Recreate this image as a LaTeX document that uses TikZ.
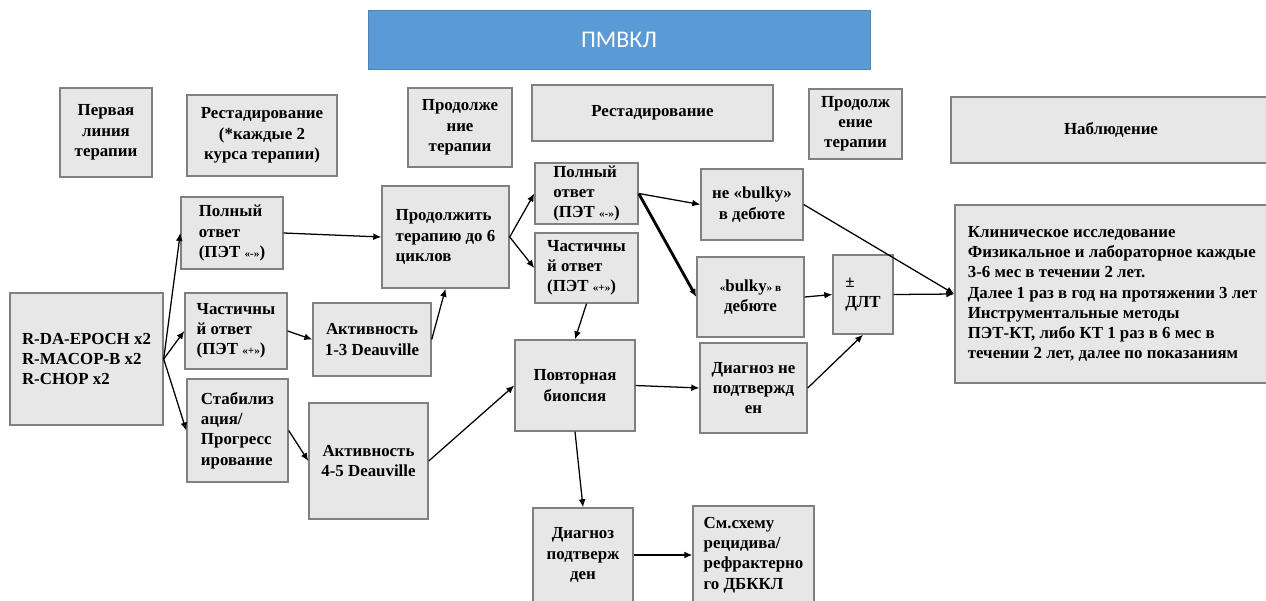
\documentclass[tikz,border=0pt]{standalone}
\usepackage{fontspec}
\setmainfont{Liberation Serif}
\newfontfamily\titlefont{Carlito}
\usetikzlibrary{arrows.meta, positioning}
\definecolor{boxgray}{HTML}{E7E7E7}
\definecolor{edgegray}{HTML}{808080}
\definecolor{titleblue}{HTML}{5B9BD5}
\newcommand{\sm}[1]{{\fontsize{8}{10}\selectfont #1}}

\begin{document}
\begin{tikzpicture}[
  x=0.025cm, y=-0.025cm,
  font=\bfseries\fontsize{12}{14.4}\selectfont,
  sz/.style 2 args={minimum width=#1*0.025cm, minimum height=#2*0.025cm},
  box/.style={draw=edgegray, fill=boxgray, line width=1pt, inner sep=0pt, align=center},
  lbox/.style={box, align=left},
  ttl/.style={draw=titleblue!85!black, fill=titleblue, inner sep=0pt, text=white,
              font=\titlefont\fontsize{17}{20}\selectfont},
  ar/.style={-{Latex[length=2mm, width=1.7mm]}, line width=0.9pt},
  tar/.style={ar, line width=2pt}]

\useasboundingbox (0,0) rectangle (1266,600);

% title and column heads
\node[ttl, sz={502}{59}] (ttl) at (619,39.5) {ПМВКЛ};
\node[box, sz={92}{89}] (fl) at (106,132.5) {Первая\\линия\\терапии};
\node[box, sz={150}{81}] (rs1) at (262,135.5) {Рестадирование\\(*каждые 2\\курса терапии)};
\node[box, sz={104}{79}] (pt1) at (460,127.5) {Продолже\\ние\\терапии};
\node[box, sz={241}{56}] (rs2) at (652.5,113) {Рестадирование};
\node[box, sz={93}{70}] (pt2) at (855.5,124) {Продолж\\ение\\терапии};
\node[box, sz={320}{66}] (obs) at (1111,130) {Наблюдение};

% first line and first restaging
\node[lbox, sz={153}{132}] (rda) at (86.5,359) {R-DA-EPOCH x2\\R-MACOP-B x2\\R-CHOP x2};
\node[lbox, sz={102}{72}] (pr1) at (232,233) {Полный\\ответ\\(ПЭТ \sm{«-»})};
\node[lbox, sz={102}{76}] (pa1) at (236,331) {Частичны\\й ответ\\(ПЭТ \sm{«+»})};
\node[lbox, sz={101}{103}] (st1) at (237.5,430.5) {Стабилиз\\ация/\\Прогресс\\ирование};
\node[box, sz={118}{73}] (act13) at (372,339.5) {Активность\\1-3 Deauville};
\node[box, sz={119}{116}] (act45) at (368.5,461) {Активность\\4-5 Deauville};
\node[lbox, sz={127}{102}] (cont) at (445.5,237) {Продолжить\\терапию до 6\\циклов};

% second restaging
\node[lbox, sz={103}{61}] (pr2) at (586.5,193.5) {Полный\\ответ\\(ПЭТ \sm{«-»})};
\node[lbox, sz={103}{70}] (pa2) at (586.5,268) {Частичны\\й ответ\\(ПЭТ \sm{«+»})};
\node[box, sz={102}{71}] (nb1) at (752,204.5) {не «bulky»\\в дебюте};
\node[box, sz={107}{80}] (bk) at (750.5,297) {\sm{«}bulky\sm{» в}\\дебюте};
\node[lbox, sz={60}{79}] (dlt) at (863,294.5) {±\\ДЛТ};
\node[box, sz={120}{91}] (bio) at (575,385.5) {Повторная\\биопсия};
\node[box, sz={107}{90}] (dnp) at (753.5,388) {Диагноз не\\подтвержд\\ен};
\node[box, sz={100}{94}] (dp) at (583,555) {Диагноз\\подтверж\\ден};
\node[lbox, sz={121}{98}] (see) at (753.5,555) {См.схему\\рецидива/\\рефрактерно\\го ДБККЛ};

% follow-up
\node[lbox, sz={315}{178}] (fup) at (1112.5,294) {Клиническое исследование\\Физикальное и лабораторное каждые\\3-6 мес в течении 2 лет.\\Далее 1 раз в год на протяжении 3 лет\\Инструментальные методы\\ПЭТ-КТ, либо КТ 1 раз в 6 мес в\\течении 2 лет, далее по показаниям};

\draw[ar] (rda.east) -- (pr1.west);
\draw[ar] (rda.east) -- (pa1.west);
\draw[ar] (rda.east) -- (st1.west);
\draw[ar] (pr1.east) -- (cont.west);
\draw[ar] (pa1.east) -- (act13.west);
\draw[ar] (act13.east) -- (cont.south);
\draw[ar] (st1.east) -- (act45.west);
\draw[ar] (act45.east) -- (bio.west);
\draw[ar] (cont.east) -- (pr2.west);
\draw[ar] (cont.east) -- (pa2.west);
\draw[ar] (pr2.east) -- (nb1.west);
\draw[tar] (pr2.east) -- (bk.west);
\draw[ar] (pa2.south) -- (bio.north);
\draw[ar] (nb1.east) -- (fup.west);
\draw[ar] (bk.east) -- (dlt.west);
\draw[ar] (dlt.east) -- (fup.west);
\draw[ar] (bio.east) -- (dnp.west);
\draw[ar] (dnp.east) -- (dlt.south);
\draw[ar] (bio.south) -- (dp.north);
\draw[ar] (dp.east) -- (see.west);
\end{tikzpicture}
\end{document}
